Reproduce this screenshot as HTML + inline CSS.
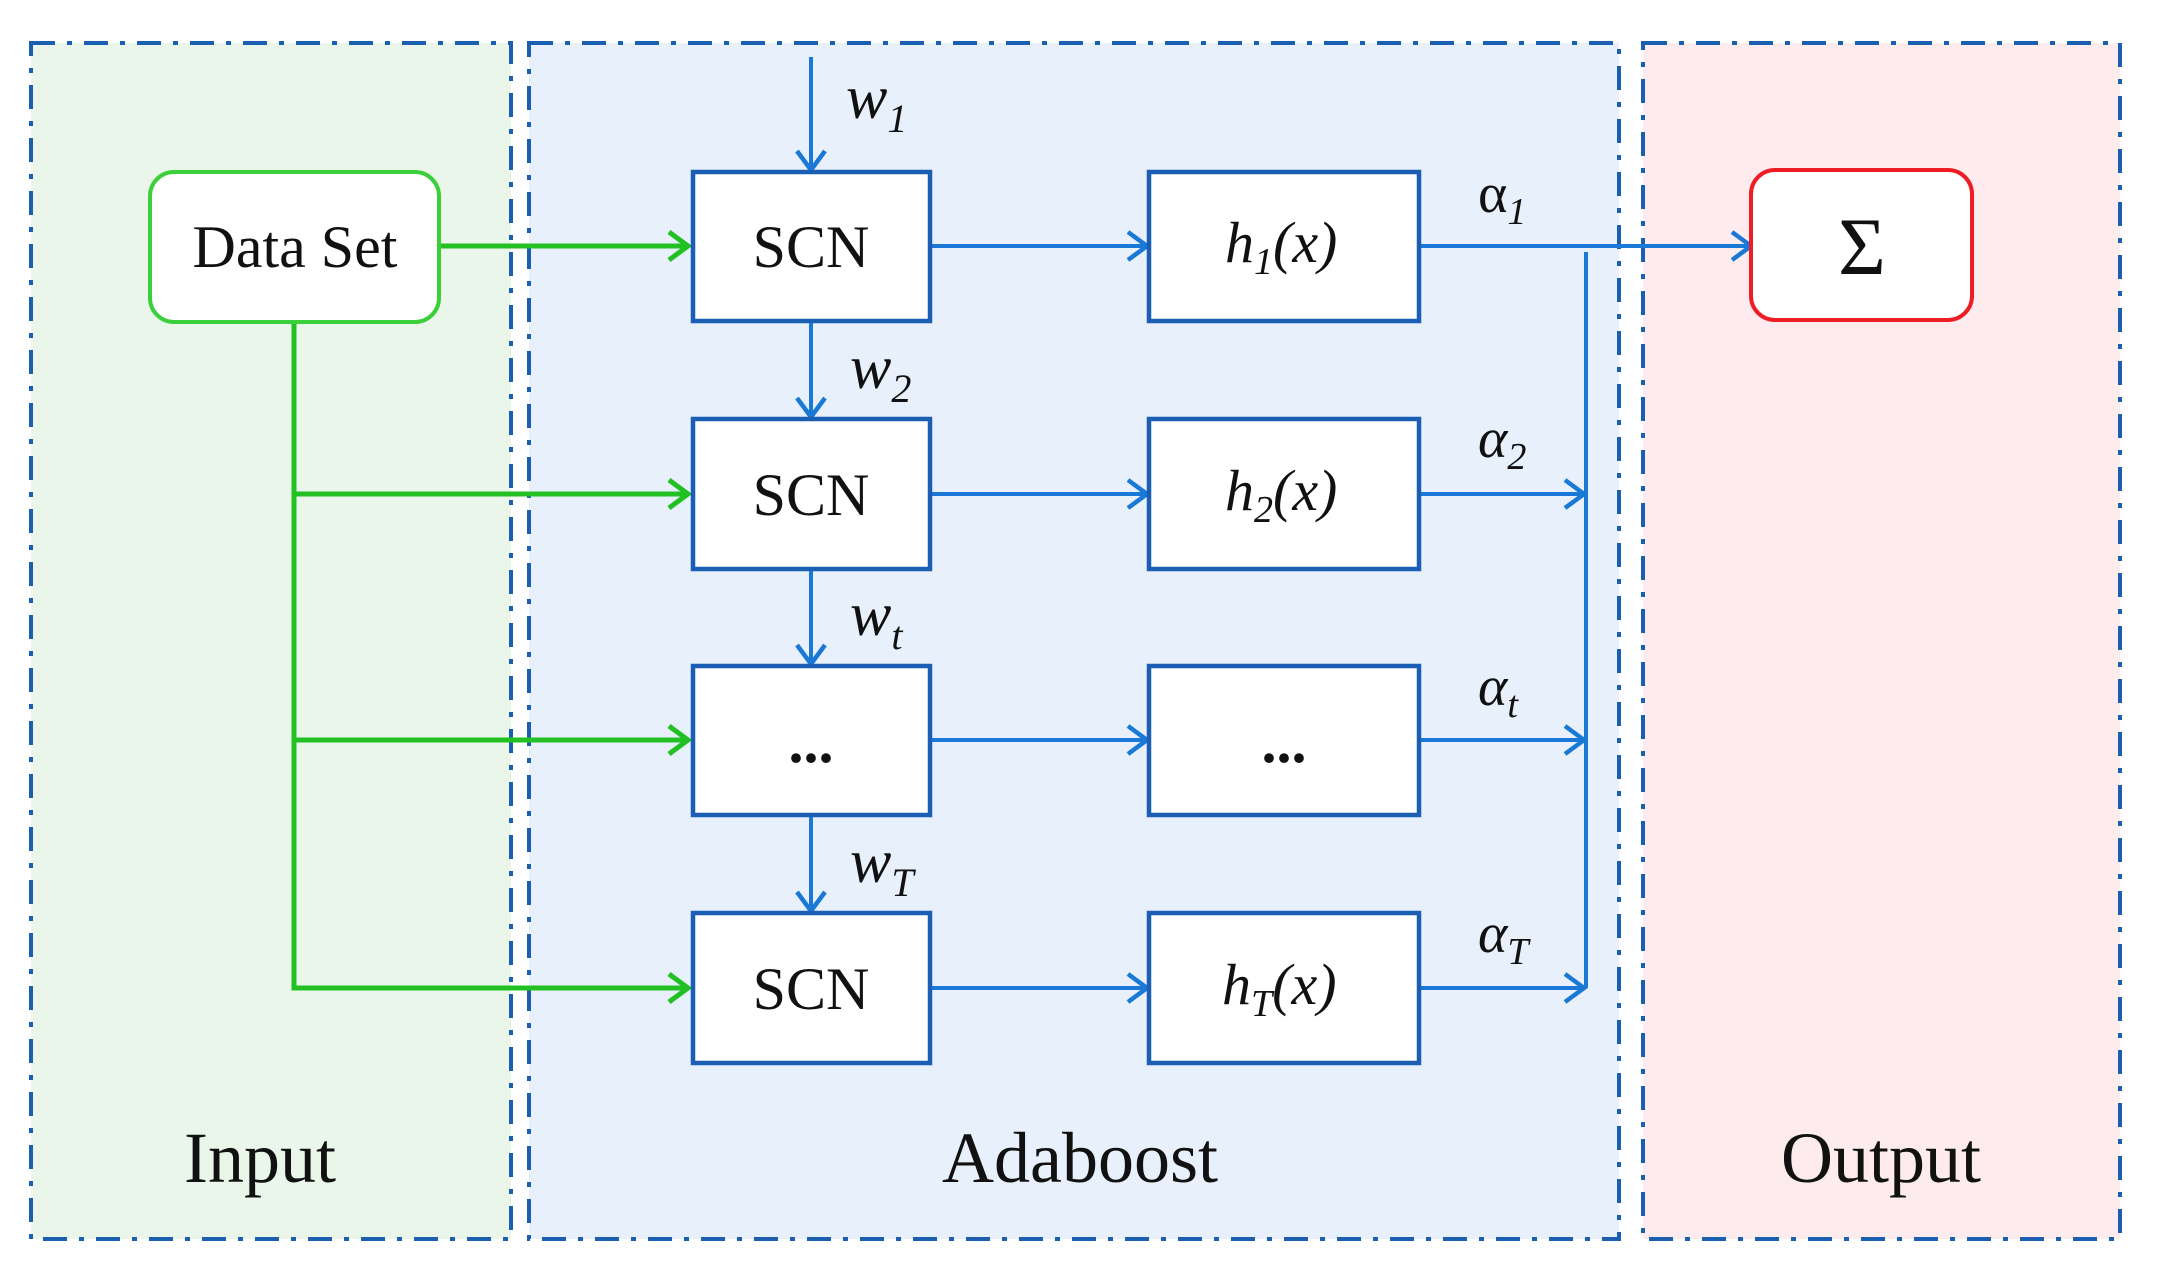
<!DOCTYPE html>
<html><head><meta charset="utf-8"><style>html,body{margin:0;padding:0;background:#fff}svg{display:block;font-family:"Liberation Serif",serif}</style></head>
<body>
<svg width="2160" height="1275" viewBox="0 0 2160 1275" xmlns="http://www.w3.org/2000/svg">
<defs>
<marker id="ab" markerWidth="30" markerHeight="34" refX="22" refY="17" orient="auto" markerUnits="userSpaceOnUse"><path d="M3,3 L22,17 L3,31" fill="none" stroke="#1a78d6" stroke-width="4.5"/></marker>
<marker id="ag" markerWidth="30" markerHeight="34" refX="22" refY="17" orient="auto" markerUnits="userSpaceOnUse"><path d="M3,3 L22,17 L3,31" fill="none" stroke="#22c022" stroke-width="5"/></marker>
</defs>
<rect x="31" y="43" width="480" height="1196" fill="#e9f6e9"/>
<rect x="529" y="43" width="1090" height="1196" fill="#e8f0fb"/>
<rect x="1643" y="43" width="477" height="1196" fill="#fdebee"/>
<g fill="none" stroke="#1a5fb0" stroke-width="4" stroke-dasharray="24 12 5 12">
<rect x="31" y="43" width="480" height="1196"/>
<rect x="529" y="43" width="1090" height="1196"/>
<rect x="1643" y="43" width="477" height="1196"/>
</g>
<g stroke="#22c022" stroke-width="5" fill="none">
<line x1="439" y1="246" x2="688" y2="246" marker-end="url(#ag)"/>
<polyline points="294,322 294,988 688,988" marker-end="url(#ag)"/>
<line x1="294" y1="494" x2="688" y2="494" marker-end="url(#ag)"/>
<line x1="294" y1="740" x2="688" y2="740" marker-end="url(#ag)"/>
</g>
<g stroke="#1a78d6" stroke-width="4" fill="none">
<line x1="811" y1="57" x2="811" y2="170" marker-end="url(#ab)"/>
<line x1="811" y1="321" x2="811" y2="417" marker-end="url(#ab)"/>
<line x1="811" y1="569" x2="811" y2="664" marker-end="url(#ab)"/>
<line x1="811" y1="815" x2="811" y2="911" marker-end="url(#ab)"/>
<line x1="930" y1="246" x2="1147" y2="246" marker-end="url(#ab)"/>
<line x1="930" y1="494" x2="1147" y2="494" marker-end="url(#ab)"/>
<line x1="930" y1="740" x2="1147" y2="740" marker-end="url(#ab)"/>
<line x1="930" y1="988" x2="1147" y2="988" marker-end="url(#ab)"/>
<line x1="1419" y1="246" x2="1751" y2="246" marker-end="url(#ab)"/>
<line x1="1419" y1="494" x2="1584" y2="494" marker-end="url(#ab)"/>
<line x1="1419" y1="740" x2="1584" y2="740" marker-end="url(#ab)"/>
<line x1="1419" y1="988" x2="1584" y2="988" marker-end="url(#ab)"/>
<line x1="1586" y1="252" x2="1586" y2="988"/>
</g>
<rect x="150" y="172" width="289" height="150" rx="24" fill="#fff" stroke="#3ccf3c" stroke-width="4"/>
<rect x="1751" y="170" width="221" height="150" rx="24" fill="#fff" stroke="#ee1c24" stroke-width="4"/>
<g fill="#fff" stroke="#1a5fb4" stroke-width="4.5">
<rect x="693" y="172" width="237" height="149"/>
<rect x="693" y="419" width="237" height="150"/>
<rect x="693" y="666" width="237" height="149"/>
<rect x="693" y="913" width="237" height="150"/>
<rect x="1149" y="172" width="270" height="149"/>
<rect x="1149" y="419" width="270" height="150"/>
<rect x="1149" y="666" width="270" height="149"/>
<rect x="1149" y="913" width="270" height="150"/>
</g>
<g fill="#111" text-anchor="middle" font-size="60" font-family="'Liberation Serif', serif">
<text x="295" y="267">Data Set</text>
<text x="811" y="267">SCN</text>
<text x="811" y="515">SCN</text>
<text x="811" y="762" font-weight="bold">...</text>
<text x="1284" y="762" font-weight="bold">...</text>
<text x="811" y="1009">SCN</text>
<text x="1862" y="274" font-size="82">Σ</text>
<text x="260" y="1182" font-size="72">Input</text>
<text x="1080" y="1182" font-size="72">Adaboost</text>
<text x="1881" y="1182" font-size="72">Output</text>
</g>
<g fill="#111" font-style="italic" font-size="58" font-family="'Liberation Serif', serif">
<text x="1225" y="262">h<tspan font-size="38" dy="12">1</tspan><tspan dy="-12">(x)</tspan></text>
<text x="1225" y="510">h<tspan font-size="38" dy="12">2</tspan><tspan dy="-12">(x)</tspan></text>
<text x="1222" y="1004">h<tspan font-size="38" dy="12">T</tspan><tspan dy="-12">(x)</tspan></text>
<text x="846" y="118" font-size="62">w<tspan font-size="40" dy="14">1</tspan></text>
<text x="850" y="388" font-size="62">w<tspan font-size="40" dy="14">2</tspan></text>
<text x="850" y="635" font-size="62">w<tspan font-size="40" dy="14">t</tspan></text>
<text x="850" y="882" font-size="62">w<tspan font-size="40" dy="14">T</tspan></text>
<text x="1478" y="212" font-size="56" font-style="normal">α<tspan font-size="38" dy="12" font-style="italic">1</tspan></text>
<text x="1478" y="457" font-size="56">α<tspan font-size="38" dy="12">2</tspan></text>
<text x="1478" y="705" font-size="56">α<tspan font-size="38" dy="12">t</tspan></text>
<text x="1478" y="952" font-size="56">α<tspan font-size="38" dy="12">T</tspan></text>
</g>
</svg>
</body></html>
